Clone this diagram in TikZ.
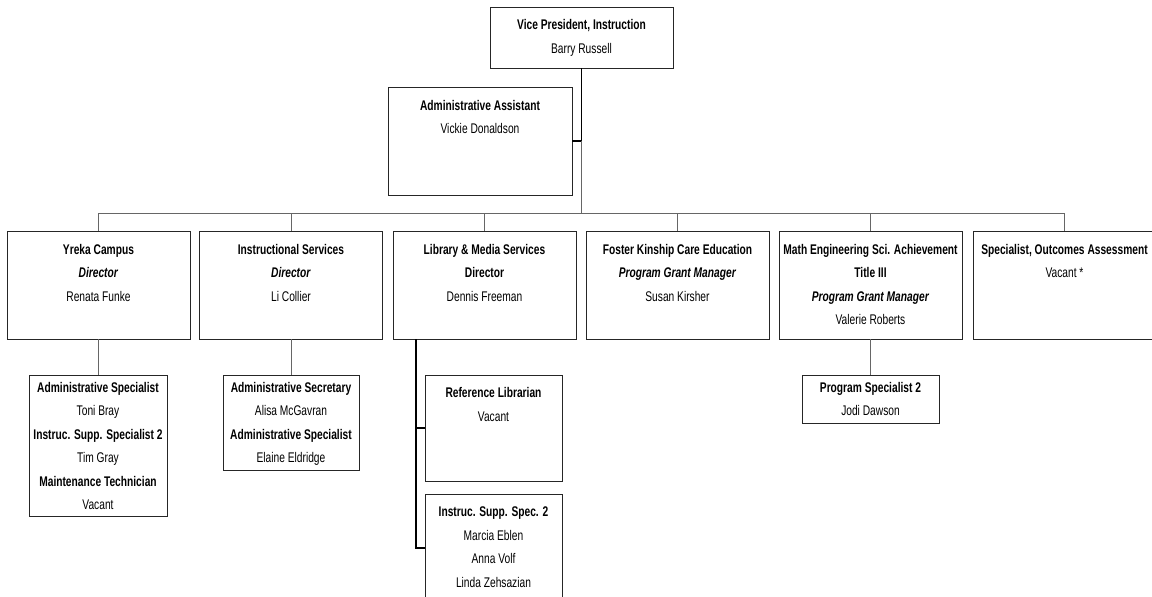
\documentclass[tikz,border=0pt]{standalone}
\usepackage{fontspec}
\setmainfont{Liberation Sans}[FakeStretch=0.73]
\begin{document}
\begin{tikzpicture}[x=1pt,y=-1pt,
  box/.style={draw=black!85, line width=0.9pt, fill=white, inner sep=0pt},
  wide/.style={box, minimum width=183pt, minimum height=108pt},
  txt/.style={anchor=north, align=center, inner sep=0pt, font=\fontsize{14}{23.5}\selectfont},
  conn/.style={draw=black!60, line width=0.9pt},
  conndark/.style={draw=black, line width=1.1pt}
]
\useasboundingbox (0,0) rectangle (1152,597);

% --- boxes ---
\node[box, minimum width=183pt, minimum height=61pt] (vp) at (581.5,37.5) {};
\node[box, minimum width=184pt, minimum height=108pt] (asst) at (480,141) {};

\node[wide] (yreka) at (98.5,285) {};
\node[wide] (instr) at (291,285) {};
\node[wide] (lib)   at (484.5,285) {};
\node[wide] (fkce)  at (677.5,285) {};
\node[wide] (mesa)  at (870.5,285) {};
\node[wide] (soa)   at (1064.5,285) {};

\node[box, minimum width=138pt, minimum height=141pt] (yrekasub) at (98,445.5) {};
\node[box, minimum width=136pt, minimum height=95pt]  (instrsub) at (291,422.5) {};
\node[box, minimum width=137pt, minimum height=106pt] (refl) at (493.5,428) {};
\node[box, minimum width=137pt, minimum height=108pt] (iss)  at (493.5,548) {};
\node[box, minimum width=137pt, minimum height=48pt]  (progsp) at (870.5,399) {};

% --- connectors ---
\coordinate (busv) at (581.5,213);
\coordinate (libx) at (416,0);
\draw[conndark] (vp.south) -- (vp.south |- asst.east) -- (asst.east);
\draw[conn] (vp.south |- asst.east) -- (busv);
\draw[conn] (yreka.north |- busv) -- (soa.north |- busv);
\foreach \n in {yreka,instr,lib,fkce,mesa,soa}
  \draw[conn] (\n.north) -- (\n.north |- busv);
\draw[conn] (yreka.south) -- (yreka.south -| yrekasub.north) -- (yrekasub.north);
\draw[conn] (instr.south) -- (instrsub.north);
\draw[conn] (mesa.south) -- (progsp.north);
\draw[conndark] (lib.south -| libx) |- (refl.west);
\draw[conndark] (lib.south -| libx) |- (iss.west);

% --- texts (yshift is in page direction: negative moves down) ---
\node[txt] (vp-t) at ([yshift=-13]vp.north) {\textbf{Vice President, Instruction}\\Barry Russell};
\node[txt] (asst-t) at ([yshift=-13.5]asst.north) {\textbf{Administrative Assistant}\\Vickie Donaldson};

\node[txt] (yreka-t) at ([yshift=-13.3]yreka.north) {\textbf{Yreka Campus}\\\textbf{\textit{Director}}\\Renata Funke};
\node[txt] (instr-t) at ([yshift=-13.3]instr.north) {\textbf{Instructional Services}\\\textbf{\textit{Director}}\\Li Collier};
\node[txt] (lib-t) at ([yshift=-13.3]lib.north) {\textbf{Library \& Media Services}\\\textbf{Director}\\Dennis Freeman};
\node[txt] (fkce-t) at ([yshift=-13.3]fkce.north) {\textbf{Foster Kinship Care Education}\\\textbf{\textit{Program Grant Manager}}\\Susan Kirsher};
\node[txt] (mesa-t) at ([yshift=-13.3]mesa.north) {\textbf{Math Engineering Sci. Achievement}\\\textbf{Title III}\\\textbf{\textit{Program Grant Manager}}\\Valerie Roberts};
\node[txt] (soa-t) at ([yshift=-13.3]soa.north) {\textbf{Specialist, Outcomes Assessment}\\Vacant *};

\node[txt] (yrekasub-t) at ([yshift=-7.3]yrekasub.north) {\textbf{Administrative Specialist}\\Toni Bray\\\textbf{Instruc. Supp. Specialist 2}\\Tim Gray\\\textbf{Maintenance Technician}\\Vacant};
\node[txt] (instrsub-t) at ([yshift=-7.3]instrsub.north) {\textbf{Administrative Secretary}\\Alisa McGavran\\\textbf{Administrative Specialist}\\Elaine Eldridge};
\node[txt] (refl-t) at ([yshift=-12.8]refl.north) {\textbf{Reference Librarian}\\Vacant};
\node[txt] (iss-t) at ([yshift=-13.3]iss.north) {\textbf{Instruc. Supp. Spec. 2}\\Marcia Eblen\\Anna Volf\\Linda Zehsazian};
\node[txt] (progsp-t) at ([yshift=-7.3]progsp.north) {\textbf{Program Specialist 2}\\Jodi Dawson};
\end{tikzpicture}
\end{document}
